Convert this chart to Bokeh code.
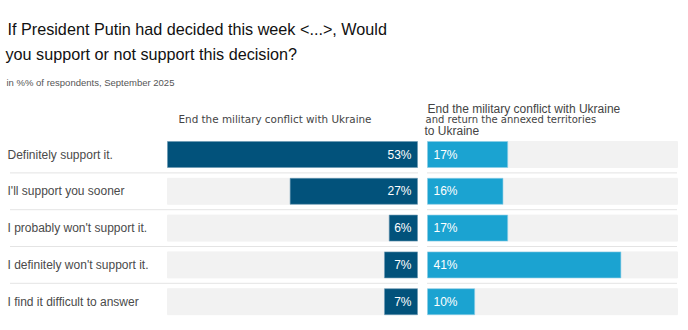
from bokeh.plotting import figure
from bokeh.models import Range1d, ColumnDataSource
from bokeh.core.properties import value
from bokeh.embed import file_html
from bokeh.resources import INLINE

# ---------------- data ----------------
categories = [
    "Definitely support it.",
    "I'll support you sooner",
    "I probably won't support it.",
    "I definitely won't support it.",
    "I find it difficult to answer",
]
end_conflict = [53, 27, 6, 7, 7]
end_and_return = [17, 16, 17, 41, 10]

title_lines = [
    "If President Putin had decided this week <...>, Would",
    "you support or not support this decision?",
]
subtitle = "in %% of respondents, September 2025"
left_header = "End the military conflict with Ukraine"
right_header = [
    "End the military conflict with Ukraine",
    "and return the annexed territories",
    "to Ukraine",
]

# ---------------- layout / style ----------------
W, H = 688, 330
PANEL_W = 250            # px width of each panel
DOMAIN = 53              # axis max of each panel (percent)
SCALE = PANEL_W / DOMAIN # px per percent
LEFT_EDGE_PX = 417       # right edge of left panel (px)
GAP = 10 / SCALE         # gap between panels in percent units
ROW0, PITCH, BAR_H = 154, 36.8, 26

DARK = "#02527b"
LIGHT = "#1ba3d1"
BG = "#f2f2f2"
FONT = "Liberation Sans"


def X(px):
    return (px - LEFT_EDGE_PX) / SCALE


ys = [ROW0 + PITCH * i for i in range(len(categories))]

src = ColumnDataSource(dict(
    y=ys,
    cat=categories,
    left_val=end_conflict,
    left_neg=[-v for v in end_conflict],
    right_val=end_and_return,
    right_end=[GAP + v for v in end_and_return],
    left_lbl=[f"{v}%" for v in end_conflict],
    right_lbl=[f"{v}%" for v in end_and_return],
))

p = figure(width=W, height=H, x_range=Range1d(X(0), X(W)), y_range=Range1d(H, 0),
           output_backend="svg", toolbar_location=None, min_border=0,
           x_axis_type=None, y_axis_type=None)
p.outline_line_color = None
p.background_fill_color = "white"
p.border_fill_color = "white"

# backgrounds
p.hbar(y="y", left=-DOMAIN, right=0, height=BAR_H, color=BG, source=src)
p.hbar(y="y", left=GAP, right=GAP + DOMAIN, height=BAR_H, color=BG, source=src)
# bars
p.hbar(y="y", left="left_neg", right=0, height=BAR_H, fill_color=DARK,
       line_color="#6b9ab5", line_width=0.6, source=src)
p.hbar(y="y", left=GAP, right="right_end", height=BAR_H, fill_color=LIGHT,
       line_color="#8fd0ea", line_width=0.6, source=src)

# separators
sep_y = [y + PITCH / 2 for y in ys[:-1]]
p.segment(x0=[X(10)] * len(sep_y), x1=[0] * len(sep_y), y0=sep_y, y1=sep_y,
          line_color="#c8c8c8", line_dash="1 1", line_width=1)
p.segment(x0=[GAP] * len(sep_y), x1=[GAP + DOMAIN] * len(sep_y), y0=sep_y, y1=sep_y,
          line_color="#c8c8c8", line_dash="1 1", line_width=1)

# value labels
p.text(x=0, y="y", text="left_lbl", source=src, x_offset=-6, text_align="right",
       text_baseline="middle", text_color="white", text_font=value(FONT),
       text_font_size="12px")
p.text(x=GAP, y="y", text="right_lbl", source=src, x_offset=6, text_align="left",
       text_baseline="middle", text_color="white", text_font=value(FONT),
       text_font_size="12px")

# category labels
p.text(x=X(7), y="y", text="cat", source=src, text_align="left",
       text_baseline="middle", text_color="#4a4a4a", text_font=value(FONT),
       text_font_size="12px")

# title / subtitle
p.text(x=[X(7), X(5)], y=[28.5, 53.5], text=title_lines, text_align="left",
       text_baseline="alphabetic", text_color="#111111", text_font=value(FONT),
       text_font_size="16.2px")
p.text(x=[X(6)], y=[81.5], text=[subtitle], text_align="left",
       text_baseline="alphabetic", text_color="#555555", text_font=value(FONT),
       text_font_size="9.5px")

# column headers
p.text(x=[X(178)], y=[118.5], text=[left_header], text_align="left",
       text_baseline="alphabetic", text_color="#444444", text_font=value("DejaVu Sans"),
       text_font_size="10.4px")
p.text(x=[X(427)], y=[108], text=[right_header[0]], text_align="left",
       text_baseline="alphabetic", text_color="#444444", text_font=value(FONT),
       text_font_size="12px")
p.text(x=[X(425)], y=[119], text=[right_header[1]], text_align="left",
       text_baseline="alphabetic", text_color="#444444", text_font=value("DejaVu Sans"),
       text_font_size="10px")
p.text(x=[X(424)], y=[130.5], text=[right_header[2]], text_align="left",
       text_baseline="alphabetic", text_color="#444444", text_font=value(FONT),
       text_font_size="12px")

open("out.html", "w").write(file_html(p, INLINE))
